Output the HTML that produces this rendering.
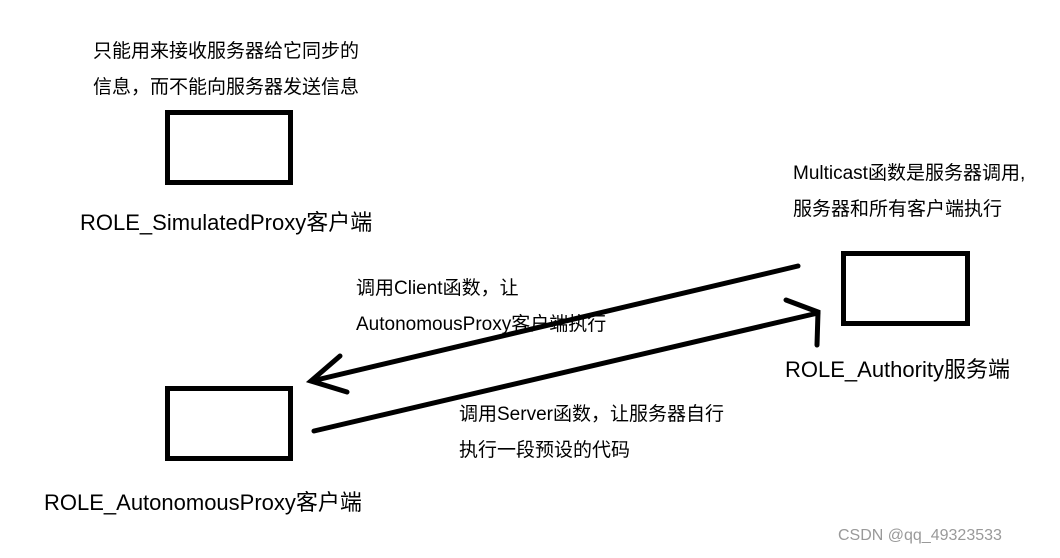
<!DOCTYPE html>
<html><head><meta charset="utf-8"><style>
body{margin:0;width:1060px;height:558px;background:#fff;overflow:hidden;position:relative;font-family:"Liberation Sans","Noto Sans CJK SC",sans-serif;color:#000}
.t{position:absolute;white-space:nowrap;line-height:1}
.s{font-size:19px}.l{font-size:22px}
</style></head><body>
<svg width="1060" height="558" style="position:absolute;left:0;top:0">
<g fill="none" stroke="#000" stroke-width="5" stroke-linecap="round">
<rect x="167.5" y="112.5" width="123" height="70"/>
<rect x="843.5" y="253.5" width="124" height="70"/>
<rect x="167.5" y="388.5" width="123" height="70"/>
<line x1="798" y1="266" x2="312" y2="381"/>
<polyline points="340,356 311,381 347,392"/>
<line x1="314" y1="431" x2="818" y2="313"/>
<polyline points="786,300 818,312 817,345"/>
</g>
</svg>
<div class="t s" style="left:93px;top:42px">只能用来接收服务器给它同步的</div>
<div class="t s" style="left:93px;top:78px">信息，而不能向服务器发送信息</div>
<div class="t l" style="left:80px;top:212px">ROLE_SimulatedProxy客户端</div>
<div class="t s" style="left:793px;top:164px">Multicast函数是服务器调用,</div>
<div class="t s" style="left:793px;top:200px">服务器和所有客户端执行</div>
<div class="t s" style="left:356px;top:279px">调用Client函数，让</div>
<div class="t s" style="left:356px;top:315px">AutonomousProxy客户端执行</div>
<div class="t l" style="left:785px;top:359px">ROLE_Authority服务端</div>
<div class="t s" style="left:459px;top:405px">调用Server函数，让服务器自行</div>
<div class="t s" style="left:459px;top:441px">执行一段预设的代码</div>
<div class="t l" style="left:44px;top:492px">ROLE_AutonomousProxy客户端</div>
<div class="t" style="left:838px;top:528px;font-size:16px;color:#999">CSDN @qq_49323533</div>
</body></html>
